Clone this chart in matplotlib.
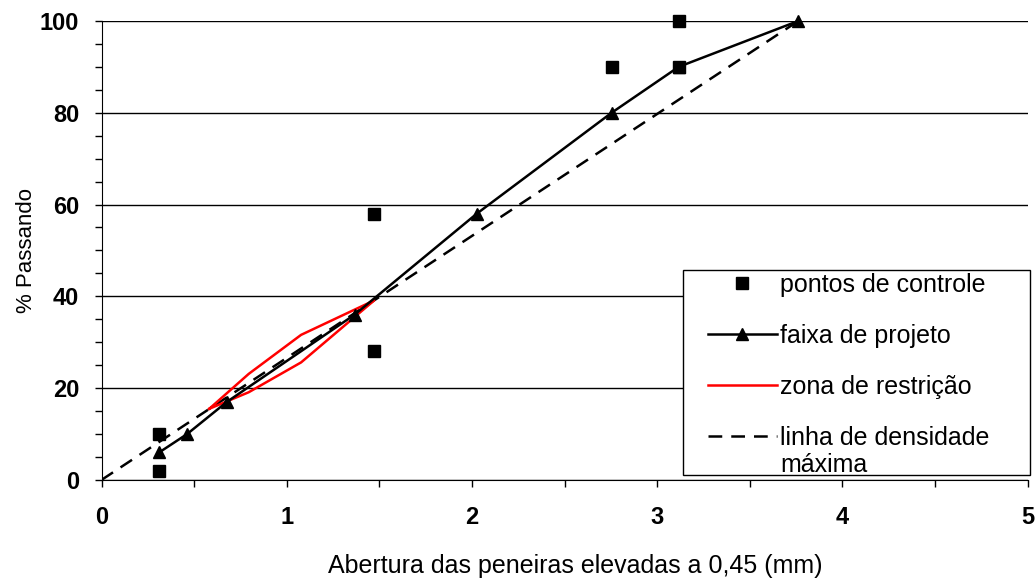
import numpy as np
import matplotlib.pyplot as plt
from matplotlib.patches import Rectangle
from matplotlib.ticker import MultipleLocator

plt.rcParams['font.family'] = ['Liberation Sans', 'DejaVu Sans']

# sieve openings (mm), plotted as size^0.45
ctrl_size = [0.075, 0.075, 2.36, 2.36, 9.5, 12.5, 12.5]
ctrl_pass = [2, 10, 28, 58, 90, 90, 100]

proj_size = [0.075, 0.18, 0.42, 2.0, 4.8, 9.5, 12.5, 19.0]
proj_pass = [6, 10, 17, 36, 58, 80, 90, 100]

# restriction zone: up the lower edge, back along the upper edge
zone_size = [0.3, 0.6, 1.18, 2.36, 1.18, 0.6, 0.3]
zone_pass = [15.5, 19.1, 25.6, 39.1, 31.6, 23.1, 15.5]

dens_size = [0.0, 19.0]
dens_pass = [0, 100]

exp = 0.45
W, H = 1036, 581

fig = plt.figure(figsize=(W / 100, H / 100), dpi=100)
ax = fig.add_axes([0.098, 0.174, 0.894, 0.790])

ax.plot(np.power(dens_size, exp), dens_pass, color='black', lw=1.8,
        linestyle=(0, (5.5, 3.6)), label='linha de densidade', zorder=2)
ax.plot(np.power(zone_size, exp), zone_pass, color='red', lw=1.8,
        label='zona de restrição', zorder=3)
ax.plot(np.power(proj_size, exp), proj_pass, color='black', lw=1.8,
        marker='^', markersize=8, label='faixa de projeto', zorder=4, clip_on=False)
ax.plot(np.power(ctrl_size, exp), ctrl_pass, linestyle='none', color='black',
        marker='s', markersize=8, label='pontos de controle', zorder=5, clip_on=False)

ax.set_xlim(0, 5)
ax.set_ylim(0, 100)
ax.xaxis.set_major_locator(MultipleLocator(1))
ax.xaxis.set_minor_locator(MultipleLocator(0.5))
ax.yaxis.set_major_locator(MultipleLocator(20))
ax.yaxis.set_minor_locator(MultipleLocator(5))
ax.tick_params(axis='both', which='both', direction='out', length=5, width=1, color='black')
ax.tick_params(axis='x', which='major', pad=14)
ax.tick_params(axis='y', which='major', pad=11)
for lab in ax.get_xticklabels() + ax.get_yticklabels():
    lab.set_fontsize(17)
    lab.set_fontweight('bold')

ax.grid(axis='y', which='major', color='black', lw=1)
ax.set_axisbelow(True)
ax.spines['top'].set_visible(False)
ax.spines['right'].set_visible(False)

ax.set_xlabel('Abertura das peneiras elevadas a 0,45 (mm)', fontsize=18, labelpad=18)
ax.xaxis.label.set_x(0.511)
ax.set_ylabel('% Passando', fontsize=16, labelpad=2)

# legend box is smaller than its text, as in the original
box = Rectangle((683 / W, 1 - 475 / H), (1030 - 683) / W, (475 - 270) / H,
                transform=fig.transFigure, facecolor='white', edgecolor='black',
                lw=1, zorder=4)
fig.add_artist(box)

handles, labels = ax.get_legend_handles_labels()
order = [3, 2, 1, 0]
leg = fig.legend([handles[i] for i in order], [labels[i] for i in order],
                 loc='upper left', bbox_to_anchor=(708 / W, 1 - 273 / H),
                 fontsize=18, frameon=False, handlelength=2.75, handletextpad=0.15,
                 labelspacing=1.08, borderpad=0, borderaxespad=0)
leg.set_zorder(5)
fig.text(780 / W, 1 - 465 / H, 'máxima', fontsize=18, va='center', ha='left', zorder=6)

fig.savefig('out.png', dpi=100)
